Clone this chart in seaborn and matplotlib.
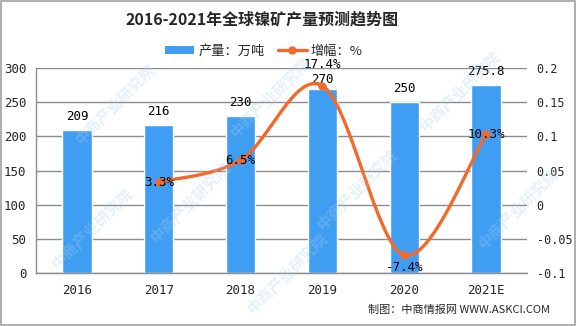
import numpy as np
import pandas as pd
import matplotlib
matplotlib.use("Agg")
import matplotlib.pyplot as plt
from matplotlib.patches import Rectangle, Patch
from matplotlib.lines import Line2D
import seaborn as sns

# Data
years = ["2016", "2017", "2018", "2019", "2020", "2021E"]
output = [209, 216, 230, 270, 250, 275.8]          # 产量：万吨
growth_years = ["2017", "2018", "2019", "2020", "2021E"]
growth = [0.033, 0.065, 0.174, -0.074, 0.103]      # 增幅
growth_labels = ["3.3%", "6.5%", "17.4%", "-7.4%", "10.3%"]

# label placement (points above the bar top / relative to the line marker)
bar_label_gap = [5, 5, 5, 1.5, 5, 5]
growth_label_dy = [0, 0, 15, -9, 0]

bar_color = "#409EF2"
line_color = "#F4692A"
grid_color = "#8C8C8C"

sns.set_theme(style="white")
plt.rcParams["font.family"] = ["Noto Sans CJK SC", "DejaVu Sans"]
num_font = ["DejaVu Sans Mono", "Noto Sans CJK SC"]

fig = plt.figure(figsize=(5.76, 3.26), dpi=100)
ax = fig.add_axes([36 / 576, 1 - 273 / 326, (527 - 36) / 576, (273 - 68) / 326])

df = pd.DataFrame({"year": years, "output": output})
sns.barplot(data=df, x="year", y="output", color=bar_color, width=0.36,
            saturation=1, ax=ax, zorder=2)

ax.set_ylim(0, 300)
ax.set_yticks(np.arange(0, 301, 50))
ax.set_xlim(-0.5, len(years) - 0.5)
ax.set_xlabel("")
ax.set_ylabel("")
ax.yaxis.grid(True, color=grid_color, linewidth=1)
ax.set_axisbelow(True)
for s in ["top", "right"]:
    ax.spines[s].set_visible(False)
ax.spines["left"].set_color(grid_color)
ax.spines["bottom"].set_color(grid_color)
ax.spines["left"].set_linewidth(1)
ax.spines["bottom"].set_linewidth(1)

# category ticks between bars, labels centred under bars
ax.set_xticks(np.arange(len(years)))
ax.set_xticklabels(years, fontfamily=num_font, fontsize=9)
ax.set_xticks(np.arange(-0.5, len(years), 1), minor=True)
ax.tick_params(axis="x", which="major", length=0, pad=8)
ax.tick_params(axis="x", which="minor", length=5, color=grid_color, width=1)
ax.tick_params(axis="y", length=0, pad=7)
for t in ax.get_yticklabels():
    t.set_fontfamily(num_font)
    t.set_fontsize(9)

# bar value labels
for i, (v, gap) in enumerate(zip(output, bar_label_gap)):
    ax.annotate(f"{v:g}", (i, v), xytext=(0, gap), textcoords="offset points",
                ha="center", va="bottom", fontsize=9, fontfamily=num_font,
                color="black", zorder=5)

# growth line on the secondary axis
ax2 = ax.twinx()
ax2.set_ylim(-0.1, 0.2)
ax2.set_yticks([0.2, 0.15, 0.1, 0.05, 0, -0.05, -0.1])
ax2.set_yticklabels(["0.2", "0.15", "0.1", "0.05", "0", "-0.05", "-0.1"],
                    fontfamily=num_font, fontsize=8.5)
ax2.tick_params(axis="y", length=0, pad=7)
for s in ax2.spines.values():
    s.set_visible(False)
ax2.grid(False)

gx = np.array([years.index(y) for y in growth_years], dtype=float)
gy = np.array(growth)

# smoothed curve (Catmull-Rom as cubic Bezier segments) through the points
def smooth(xs, ys, n=40):
    px = np.concatenate([[xs[0]], xs, [xs[-1]]])
    py = np.concatenate([[ys[0]], ys, [ys[-1]]])
    out_x, out_y = [], []
    t = np.linspace(0, 1, n)
    for k in range(1, len(px) - 2):
        p0 = np.array([px[k], py[k]])
        p3 = np.array([px[k + 1], py[k + 1]])
        c1 = p0 + (np.array([px[k + 1], py[k + 1]]) - np.array([px[k - 1], py[k - 1]])) / 6
        c2 = p3 - (np.array([px[k + 2], py[k + 2]]) - np.array([px[k], py[k]])) / 6
        b = ((1 - t) ** 3)[:, None] * p0 + (3 * (1 - t) ** 2 * t)[:, None] * c1 \
            + (3 * (1 - t) * t ** 2)[:, None] * c2 + (t ** 3)[:, None] * p3
        out_x.extend(b[:, 0])
        out_y.extend(b[:, 1])
    return np.array(out_x), np.array(out_y)

sx, sy = smooth(gx, gy)
curve = pd.DataFrame({"x": sx, "y": sy})
sns.lineplot(data=curve, x="x", y="y", sort=False, color=line_color,
             linewidth=2.4, ax=ax2, zorder=3)
sns.scatterplot(x=gx, y=gy, color=line_color, s=30, edgecolor=line_color,
                ax=ax2, zorder=4)
ax2.set_xlim(-0.5, len(years) - 0.5)
ax2.set_xlabel("")
ax2.set_ylabel("")

for x, y, lab, dy in zip(gx, gy, growth_labels, growth_label_dy):
    ax2.annotate(lab, (x, y), xytext=(0, dy), textcoords="offset points",
                 ha="center", va="center", fontsize=9, fontfamily=num_font,
                 color="black", zorder=6)

# title
fig.text(0.455, 1 - 20 / 326, "2016-2021年全球镍矿产量预测趋势图",
         ha="center", va="center", fontsize=11.5, fontweight="bold",
         family=["Noto Sans CJK SC", "DejaVu Sans"])

# legend
handles = [Patch(facecolor=bar_color, edgecolor="none", label="产量：万吨"),
           Line2D([0], [0], color=line_color, lw=2.4, marker="o", ms=5,
                  label="增幅：%")]
fig.legend(handles=handles, loc="center", bbox_to_anchor=(0.458, 1 - 51 / 326),
           ncol=2, frameon=False, fontsize=9.5, handlelength=2.2,
           handleheight=0.6, columnspacing=1.0, handletextpad=0.3)

# source note
fig.text(550 / 576, 1 - 310 / 326, "制图：中商情报网 WWW.ASKCI.COM",
         ha="right", va="center", fontsize=8,
         family=["Noto Sans CJK SC", "DejaVu Sans"])

# watermark
wm_color = "#A9CFEA"
for (wx, wy) in [(0.47, 0.70), (0.80, 0.72), (0.20, 0.68),
                 (0.33, 0.38), (0.62, 0.42), (0.90, 0.36),
                 (0.50, 0.16), (0.16, 0.30)]:
    fig.text(wx, wy, "中商产业研究院", rotation=45, ha="center", va="center",
             fontsize=11, color=wm_color, alpha=0.3, fontweight="bold",
             zorder=10)

# outer frame
fig.add_artist(Rectangle((0.001, 0.002), 0.997, 0.995, transform=fig.transFigure,
                         fill=False, edgecolor="#A0A0A0", linewidth=1.2))

fig.savefig("out.png", dpi=100)
